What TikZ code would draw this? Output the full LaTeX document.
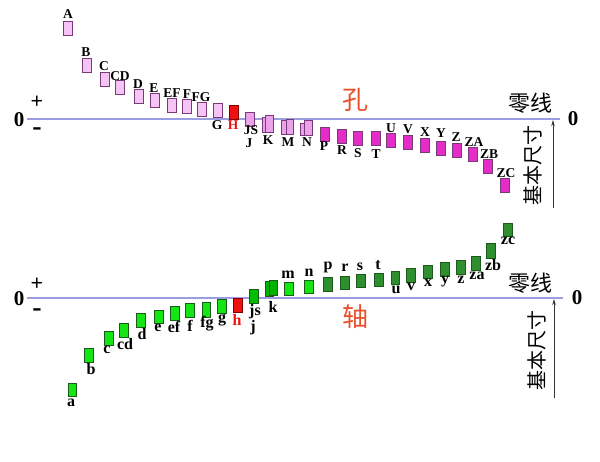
\documentclass[tikz,border=0pt]{standalone}
\usepackage{fontspec}
\setmainfont{Liberation Serif}
\newfontfamily\cjk{Noto Sans CJK SC}
\usetikzlibrary{arrows.meta}
\definecolor{pinkL}{HTML}{F4C4F4}
\definecolor{pinkM}{HTML}{EBA2EB}
\definecolor{magen}{HTML}{E42CC8}
\definecolor{pborder}{HTML}{7A3A7A}
\definecolor{redbox}{HTML}{EE1111}
\definecolor{greenL}{HTML}{14E614}
\definecolor{greenD}{HTML}{2F8F2F}
\definecolor{gborder}{HTML}{1A5A1A}
\definecolor{zcol}{HTML}{9C9CE0}
\definecolor{hanred}{HTML}{E8502A}
\tikzset{
  box/.style={rectangle,draw,line width=0.6pt,inner sep=0pt,minimum width=9pt,minimum height=14pt},
  pL/.style={box,fill=pinkL,draw=pborder},
  pM/.style={box,fill=pinkM,draw=pborder,minimum width=7.5pt},
  pD/.style={box,fill=magen,draw=pborder},
  rb/.style={box,fill=redbox,draw=red!50!black},
  gL/.style={box,fill=greenL,draw=gborder},
  gD/.style={box,fill=greenD,draw=gborder},
  up/.style={inner sep=0pt,font=\fontsize{13.5}{13.5}\selectfont\bfseries},
  lo/.style={inner sep=0pt,font=\fontsize{16}{16}\selectfont\bfseries},
  zero/.style={inner sep=0pt,font=\fontsize{21}{21}\selectfont\bfseries},
  pm/.style={inner sep=0pt,font=\fontsize{22}{22}\selectfont\bfseries},
  mn/.style={inner sep=0pt,font=\fontsize{28}{28}\selectfont\bfseries},
  han/.style={inner sep=0pt,font=\fontsize{22}{22}\selectfont\cjk},
  zline/.style={draw=zcol,line width=1.2pt},
  dimline/.style={draw=black!80,line width=0.7pt,-{Stealth[length=6pt,width=3.5pt]}}
}
\begin{document}
\begin{tikzpicture}[x=1pt,y=-1pt]
\useasboundingbox[fill=white] (0,0) rectangle (600,461);
% ---------- top (holes) ----------
\coordinate (tl) at (27,119);
\coordinate (tr) at (560,119);
\draw[zline] (tl) -- (tr);
\node[zero] (t0l) at (19,120) {0};
\node[pm] (tplus) at (37,102) {+};
\node[mn] (tminus) at (37,132) {-};
\node[zero] (t0r) at (573,119) {0};
\node[han] (tzl) at (530,103) {零线};
\node[han,text=hanred,font=\fontsize{26}{26}\selectfont\cjk] (kong) at (355,100) {孔};
\coordinate (ta0) at (553,208);
\coordinate (ta1) at (553,120);
\draw[dimline] (ta0) -- (ta1);
\node[han,rotate=90,font=\fontsize{20}{20}\selectfont\cjk] (tjb) at (533,165) {基本尺寸};

\node[pL] (bA) at (68,28) {};
\node[pL] (bB) at (86.5,65) {};
\node[pL] (bC) at (105,79) {};
\node[pL] (bCD) at (119.5,87.5) {};
\node[pL] (bD) at (138.5,96) {};
\node[pL] (bE) at (155,100.5) {};
\node[pL] (bEF) at (171.5,105) {};
\node[pL] (bF) at (187,106.5) {};
\node[pL] (bFG) at (202,109) {};
\node[pL] (bG) at (218,110.5) {};
\node[rb] (bH) at (233.5,112.5) {};
\node[pM,minimum width=9pt] (bJS) at (249.5,119) {};
\node[pM,minimum height=15pt] (bK1) at (266,124.5) {};
\node[pM,minimum height=17pt] (bK2) at (269.5,123.5) {};
\node[pM] (bM1) at (285.5,127) {};
\node[pM,minimum height=15pt] (bM2) at (290,126.5) {};
\node[pM,minimum height=12pt] (bN1) at (304.5,129) {};
\node[pM,minimum height=15pt] (bN2) at (308.5,127.5) {};
\node[pD] (bP) at (324.5,134) {};
\node[pD] (bR) at (341.5,136) {};
\node[pD] (bS) at (357.5,138) {};
\node[pD] (bT) at (375.5,138) {};
\node[pD] (bU) at (391,140) {};
\node[pD] (bV) at (407.5,142.5) {};
\node[pD] (bX) at (424.5,145.5) {};
\node[pD] (bY) at (441,148) {};
\node[pD] (bZ) at (456.5,150) {};
\node[pD] (bZA) at (472.5,154) {};
\node[pD] (bZB) at (487.5,166.5) {};
\node[pD] (bZC) at (505,185.5) {};

\node[up] (lA) at (68,14) {A};
\node[up] (lB) at (86,52) {B};
\node[up] (lC) at (104,66) {C};
\node[up] (lCD) at (120,76) {CD};
\node[up] (lD) at (138,84) {D};
\node[up] (lE) at (154,88) {E};
\node[up] (lEF) at (172,93) {EF};
\node[up] (lF) at (187,94) {F};
\node[up] (lFG) at (201,97) {FG};
\node[up] (lG) at (217,125) {G};
\node[up,text=redbox] (lH) at (233,125) {H};
\node[up] (lJS) at (251,130) {JS};
\node[up] (lJ) at (249,143) {J};
\node[up] (lK) at (268,140) {K};
\node[up] (lM) at (288,142) {M};
\node[up] (lN) at (307,142) {N};
\node[up] (lP) at (324,146) {P};
\node[up] (lR) at (342,150) {R};
\node[up] (lS) at (358,153) {S};
\node[up] (lT) at (376,154) {T};
\node[up] (lU) at (391,128) {U};
\node[up] (lV) at (408,129) {V};
\node[up] (lX) at (425,132) {X};
\node[up] (lY) at (441,133) {Y};
\node[up] (lZ) at (456,137) {Z};
\node[up] (lZA) at (474,142) {ZA};
\node[up] (lZB) at (489,154) {ZB};
\node[up] (lZC) at (506,173) {ZC};

% ---------- bottom (shafts) ----------
\coordinate (bl) at (27,298);
\coordinate (br) at (563,298);
\draw[zline] (bl) -- (br);
\node[zero] (b0l) at (19,299) {0};
\node[pm] (bplus) at (37,284) {+};
\node[mn] (bminus) at (37,313) {-};
\node[zero] (b0r) at (577,298) {0};
\node[han] (bzl) at (530,283) {零线};
\node[han,text=hanred,font=\fontsize{26}{26}\selectfont\cjk] (zhou) at (355,317) {轴};
\coordinate (ba0) at (554,398);
\coordinate (ba1) at (554,299);
\draw[dimline] (ba0) -- (ba1);
\node[han,rotate=90,font=\fontsize{20}{20}\selectfont\cjk] (bjb) at (537,350) {基本尺寸};

\node[gL,minimum width=8pt,minimum height=13pt] (ga) at (72,389.5) {};
\node[gL] (gb) at (89,355) {};
\node[gL] (gc) at (109,338) {};
\node[gL] (gcd) at (124,330) {};
\node[gL] (gd) at (141,320) {};
\node[gL,minimum height=13pt] (ge) at (159,316.5) {};
\node[gL] (gef) at (175,313) {};
\node[gL] (gf) at (190,310) {};
\node[gL,minimum width=8pt,minimum height=15pt] (gfg) at (206.5,309.5) {};
\node[gL] (gg) at (221.5,306) {};
\node[rb] (gh) at (237.5,305) {};
\node[gL,draw=gborder,fill=green!75!black] (gjs) at (253.5,296.5) {};
\node[gL,fill=green!70!black,minimum width=8pt,minimum height=15pt] (gk1) at (269.5,289) {};
\node[gL,fill=green!70!black,minimum width=8pt,minimum height=15pt] (gk2) at (273,288) {};
\node[gL,minimum height=13pt] (gm) at (289,288.5) {};
\node[gL,minimum height=13pt] (gn) at (309,286.5) {};
\node[gD] (gp) at (327.5,284) {};
\node[gD,minimum height=13pt] (gr) at (345,282.5) {};
\node[gD,minimum height=13pt] (gs) at (361,281) {};
\node[gD,minimum height=13pt] (gt) at (379,279.5) {};
\node[gD,minimum width=8pt,minimum height=13pt] (gu) at (395.5,277.5) {};
\node[gD] (gv) at (411,275) {};
\node[gD,minimum height=13pt] (gx) at (428,271.5) {};
\node[gD] (gy) at (445,269) {};
\node[gD] (gz) at (461,267) {};
\node[gD] (gza) at (476,263) {};
\node[gD,minimum height=15pt] (gzb) at (491,250.5) {};
\node[gD,minimum height=13pt] (gzc) at (507.5,229.5) {};

\node[lo] (la) at (71,403) {a};
\node[lo] (lb) at (91,369) {b};
\node[lo] (lc) at (107,350) {c};
\node[lo] (lcd) at (125,344) {cd};
\node[lo] (ld) at (142,334) {d};
\node[lo] (le) at (158,328) {e};
\node[lo] (lef) at (174,327) {ef};
\node[lo] (lf) at (190,326) {f};
\node[lo] (lfg) at (207,324) {fg};
\node[lo] (lg) at (222,320) {g};
\node[lo,text=redbox] (lh) at (237,320) {h};
\node[lo] (ljs) at (255,312) {js};
\node[lo] (lj) at (253,328) {j};
\node[lo] (lk) at (273,307) {k};
\node[lo] (lm) at (288,275) {m};
\node[lo] (ln) at (309,273) {n};
\node[lo] (lp) at (328,267) {p};
\node[lo] (lr) at (345,268) {r};
\node[lo] (ls) at (360,267) {s};
\node[lo] (lt) at (378,265) {t};
\node[lo] (lu) at (396,290) {u};
\node[lo] (lv) at (411,287) {v};
\node[lo] (lx) at (428,283) {x};
\node[lo] (ly) at (445,282) {y};
\node[lo] (lz) at (461,280) {z};
\node[lo] (lza) at (477,276) {za};
\node[lo] (lzb) at (493,265) {zb};
\node[lo] (lzc) at (508,241) {zc};
\end{tikzpicture}
\end{document}
